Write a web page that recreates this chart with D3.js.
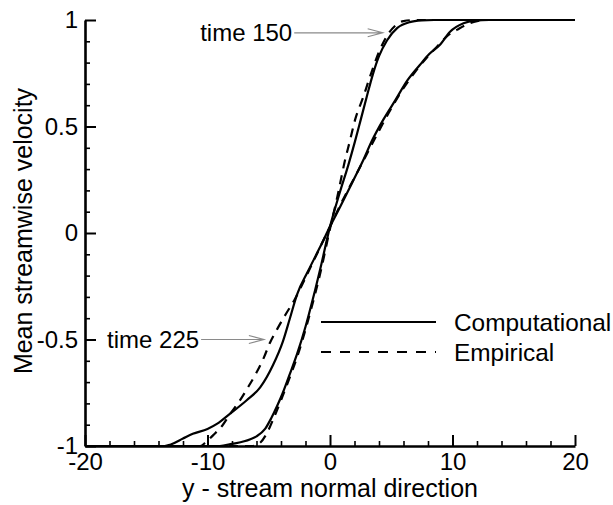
<!DOCTYPE html>
<html>
<head>
<meta charset="utf-8">
<script src="https://cdn.jsdelivr.net/npm/d3@7"></script>
<style>
  html, body { margin: 0; padding: 0; background: #fff; }
  svg { display: block; }
  text { font-family: "Liberation Sans", Arial, Helvetica, sans-serif; fill: #000; }
</style>
</head>
<body>
<svg id="chart" width="613" height="505"></svg>
<script>
// Axis ticks and labels
const xTicks = [-20, -10, 0, 10, 20];
const xTickLabels = ["-20", "-10", "0", "10", "20"];
const yTicks = [-1, -0.5, 0, 0.5, 1];
const yTickLabels = ["-1", "-0.5", "0", "0.5", "1"];
const xMinorTicks = [-18, -16, -14, -12, -8, -6, -4, -2, 2, 4, 6, 8, 12, 14, 16, 18];
const yMinorTicks = [-0.9, -0.8, -0.7, -0.6, -0.4, -0.3, -0.2, -0.1, 0.1, 0.2, 0.3, 0.4, 0.6, 0.7, 0.8, 0.9];

const xTitle = "y - stream normal direction";
const yTitle = "Mean streamwise velocity";
const seriesNames = ["Computational", "Empirical"];
const timeLabels = ["time 150", "time 225"];

// Mean velocity profiles [y, u]
const comp150 = [[-20,-1],[-9,-1],[-8,-0.99],[-7,-0.978],[-6.5,-0.968],[-6,-0.955],[-5.3,-0.92],[-4.8,-0.87],
  [-4.3,-0.81],[-3.85,-0.75],[-3.3,-0.665],[-2.7,-0.57],[-2,-0.44],[-1.4,-0.31],[-0.7,-0.145],[0,0.03],[0.8,0.19],
  [1.5,0.32],[2.04,0.43],[2.5,0.53],[3,0.64],[3.5,0.745],[4,0.83],[4.65,0.904],[5.5,0.963],[6.5,0.99],[7.5,0.998],
  [8.5,1],[20,1]];
const emp150 = [[-20,-1],[-6.3,-1],[-5.7,-0.985],[-5.2,-0.945],[-4.6,-0.87],[-3.9,-0.77],[-3.3,-0.68],[-2.7,-0.585],
  [-1.6,-0.37],[-0.8,-0.19],[0,0.02],[0.6,0.17],[1.22,0.34],[1.63,0.434],[2.04,0.53],[2.7,0.636],[3.3,0.74],[4,0.85],
  [4.7,0.93],[5.3,0.972],[6,0.995],[7,1],[20,1]];
const comp225 = [[-20,-1],[-13.5,-1],[-13,-0.993],[-12,-0.965],[-11.2,-0.943],[-10,-0.92],[-9.2,-0.895],[-8.2,-0.85],
  [-6.8,-0.785],[-5.7,-0.725],[-4.65,-0.62],[-3.85,-0.51],[-3.27,-0.40],[-2.7,-0.29],[-1.8,-0.18],[-0.8,-0.065],[0,0.03],
  [0.8,0.12],[1.8,0.235],[2.7,0.34],[3.43,0.434],[4.33,0.53],[5.3,0.62],[6.3,0.715],[7.35,0.79],[8.1,0.84],[9,0.885],
  [9.8,0.945],[10.9,0.985],[11.8,0.997],[13,1],[20,1]];
const emp225 = [[-20,-1],[-10.6,-1],[-10.1,-0.98],[-9.55,-0.95],[-8.8,-0.905],[-8.16,-0.85],[-7.4,-0.79],[-6.7,-0.725],
  [-6.0,-0.655],[-5.4,-0.585],[-4.9,-0.515],[-4.3,-0.45],[-3.6,-0.38],[-2.86,-0.31],[-2,-0.21],[-1,-0.09],[0,0.03],
  [1,0.15],[2,0.26],[3,0.37],[4,0.48],[5,0.585],[6,0.68],[7,0.76],[8,0.83],[8.9,0.885],[9.6,0.927],[10.4,0.955],
  [11.2,0.98],[12,0.995],[12.8,1],[20,1]];

// Annotation anchors: [label x, label y, arrow tip x, arrow tip y] in data units
const timeAnchors = [[-10.6, 0.94, 4.3, 0.94], [-18.2, -0.5, -5.4, -0.5]];

const svg = d3.select("#chart");
const x = d3.scaleLinear().domain([-20, 20]).range([85, 575]);
const y = d3.scaleLinear().domain([-1, 1]).range([446, 20]);

const dash = "9,7";

// Curves
const line = d3.line().x(d => x(d[0])).y(d => y(d[1])).curve(d3.curveMonotoneX);
const curves = [
  { data: comp225, dashed: false },
  { data: comp150, dashed: false },
  { data: emp225, dashed: true },
  { data: emp150, dashed: true }
];
svg.append("g").selectAll("path").data(curves).join("path")
  .attr("d", d => line(d.data))
  .attr("fill", "none")
  .attr("stroke", "#000")
  .attr("stroke-width", 2.2)
  .attr("stroke-dasharray", d => d.dashed ? dash : null);

// Minor ticks
svg.append("g").attr("transform", `translate(0,${y(-1)})`)
  .call(d3.axisBottom(x).tickValues(xMinorTicks).tickSize(-5).tickFormat(""))
  .call(g => g.select(".domain").remove())
  .call(g => g.selectAll("line").attr("stroke-width", 1.6));
svg.append("g").attr("transform", `translate(${x(-20)},0)`)
  .call(d3.axisLeft(y).tickValues(yMinorTicks).tickSize(-5).tickFormat(""))
  .call(g => g.select(".domain").remove())
  .call(g => g.selectAll("line").attr("stroke-width", 1.6));

// Major axes
const xAxis = svg.append("g").attr("transform", `translate(0,${y(-1)})`)
  .call(d3.axisBottom(x).tickValues(xTicks).tickSize(-11).tickSizeOuter(0).tickPadding(7)
    .tickFormat((d, i) => xTickLabels[i]));
const yAxis = svg.append("g").attr("transform", `translate(${x(-20)},0)`)
  .call(d3.axisLeft(y).tickValues(yTicks).tickSize(-11).tickSizeOuter(0).tickPadding(7)
    .tickFormat((d, i) => yTickLabels[i]));
[xAxis, yAxis].forEach(g => {
  g.attr("font-family", null).attr("font-size", null);
  g.select(".domain").attr("stroke-width", 2.6);
  g.selectAll(".tick line").attr("stroke-width", 2);
  g.selectAll(".tick text").style("font-size", "24px");
});

// Axis titles
svg.append("text").attr("x", 330).attr("y", 497).attr("text-anchor", "middle")
  .style("font-size", "25px").text(xTitle);
svg.append("text").attr("transform", "translate(32,231) rotate(-90)").attr("text-anchor", "middle")
  .style("font-size", "25px").text(yTitle);

// Time annotations with open arrows
const ann = svg.append("g");
timeAnchors.forEach((a, i) => {
  const t = ann.append("text").attr("x", x(a[0])).attr("y", y(a[1])).attr("dy", "0.35em")
    .style("font-size", "24px").text(timeLabels[i]);
  const w = t.node().getComputedTextLength();
  const x0 = x(a[0]) + w + 2, x1 = x(a[2]), yy = y(a[3]);
  ann.append("path")
    .attr("d", `M${x0},${yy}H${x1}M${x1 - 15},${yy - 4}L${x1},${yy}L${x1 - 15},${yy + 4}`)
    .attr("fill", "none").attr("stroke", "#8a8a8a").attr("stroke-width", 1.2);
});

// Legend
const legend = svg.append("g").attr("transform", "translate(321,322)");
seriesNames.forEach((name, i) => {
  legend.append("line").attr("x1", 0).attr("x2", 115).attr("y1", i * 30).attr("y2", i * 30)
    .attr("stroke", "#000").attr("stroke-width", 2.2)
    .attr("stroke-dasharray", i === 1 ? "10,9" : null);
  legend.append("text").attr("x", 133).attr("y", i * 30).attr("dy", "0.35em")
    .style("font-size", "24.4px").text(name);
});
</script>
</body>
</html>
